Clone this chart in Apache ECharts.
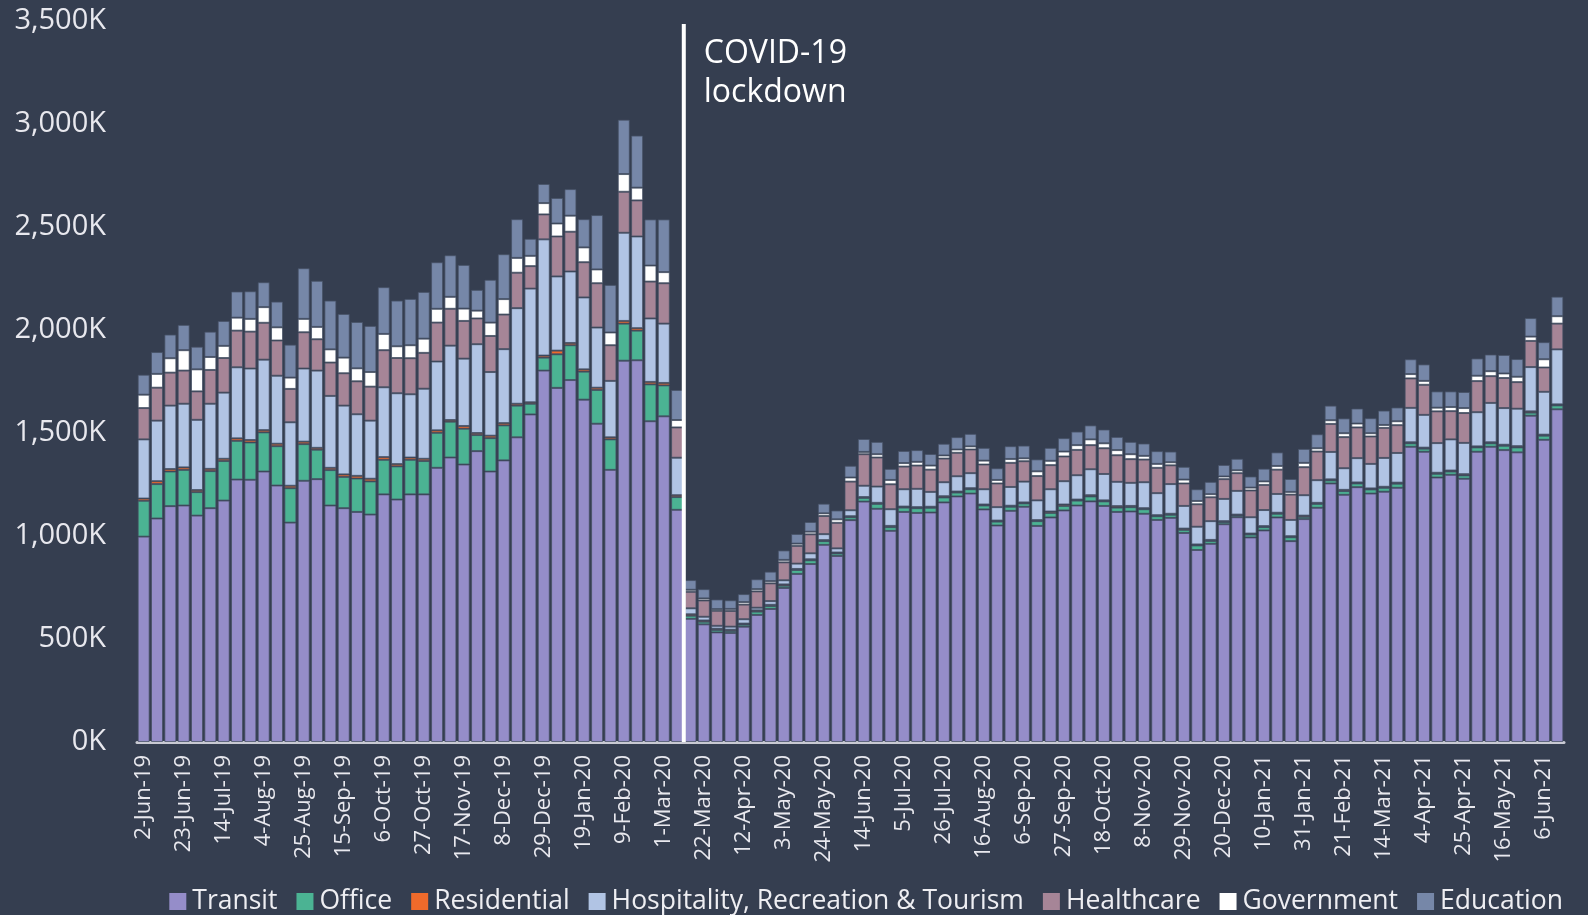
<!DOCTYPE html>
<html>
<head>
<meta charset="utf-8">
<script src="https://cdn.jsdelivr.net/npm/echarts@6/dist/echarts.min.js"></script>
<style>
  html, body { margin: 0; padding: 0; background: #353e50; }
  #chart { width: 1588px; height: 915px; }
</style>
</head>
<body>
<div id="chart"></div>
<script>
// weekly, thousands
const weeks = [
  '2-Jun-19','9-Jun-19','16-Jun-19','23-Jun-19','30-Jun-19','7-Jul-19','14-Jul-19','21-Jul-19','28-Jul-19',
  '4-Aug-19','11-Aug-19','18-Aug-19','25-Aug-19','1-Sep-19','8-Sep-19','15-Sep-19','22-Sep-19','29-Sep-19',
  '6-Oct-19','13-Oct-19','20-Oct-19','27-Oct-19','3-Nov-19','10-Nov-19','17-Nov-19','24-Nov-19',
  '1-Dec-19','8-Dec-19','15-Dec-19','22-Dec-19','29-Dec-19',
  '5-Jan-20','12-Jan-20','19-Jan-20','26-Jan-20','2-Feb-20','9-Feb-20','16-Feb-20','23-Feb-20',
  '1-Mar-20','8-Mar-20','15-Mar-20','22-Mar-20','29-Mar-20','5-Apr-20','12-Apr-20','19-Apr-20','26-Apr-20',
  '3-May-20','10-May-20','17-May-20','24-May-20','31-May-20','7-Jun-20','14-Jun-20','21-Jun-20','28-Jun-20',
  '5-Jul-20','12-Jul-20','19-Jul-20','26-Jul-20','2-Aug-20','9-Aug-20','16-Aug-20','23-Aug-20','30-Aug-20',
  '6-Sep-20','13-Sep-20','20-Sep-20','27-Sep-20','4-Oct-20','11-Oct-20','18-Oct-20','25-Oct-20',
  '1-Nov-20','8-Nov-20','15-Nov-20','22-Nov-20','29-Nov-20','6-Dec-20','13-Dec-20','20-Dec-20','27-Dec-20',
  '3-Jan-21','10-Jan-21','17-Jan-21','24-Jan-21','31-Jan-21','7-Feb-21','14-Feb-21','21-Feb-21','28-Feb-21',
  '7-Mar-21','14-Mar-21','21-Mar-21','28-Mar-21','4-Apr-21','11-Apr-21','18-Apr-21','25-Apr-21',
  '2-May-21','9-May-21','16-May-21','23-May-21','30-May-21','6-Jun-21','13-Jun-21'
];

const transit = [
  997,1085,1145,1148,1099,1135,1172,1274,1273,1313,1245,1065,1268,1276,1148,1135,1117,1104,1202,1177,
  1202,1202,1331,1381,1347,1412,1313,1367,1479,1590,1803,1719,1757,1662,1545,1321,1851,1853,1557,1581,
  1127,598,571,532,529,560,617,646,748,816,864,957,903,1077,1167,1132,1025,1117,1112,1114,
  1163,1192,1206,1129,1051,1122,1142,1049,1090,1124,1148,1168,1146,1117,1119,1108,1078,1088,1015,932,
  962,1057,1091,993,1027,1090,975,1082,1137,1255,1200,1237,1206,1215,1234,1433,1409,1284,1297,1278,
  1409,1433,1417,1406,1584,1467,1615
];
const office = [
  174,167,168,173,114,180,192,188,181,190,191,167,178,143,172,152,162,161,168,161,
  168,162,170,174,174,78,162,170,154,52,63,163,169,136,164,148,180,144,179,150,
  62,15,13,12,10,10,16,14,11,19,18,18,12,14,18,24,18,21,23,23,
  24,19,21,19,19,20,16,23,22,22,24,24,22,21,21,22,18,15,15,22,
  14,10,8,14,16,18,19,11,19,15,18,18,20,19,20,17,15,18,16,16,
  21,17,21,24,15,20,19
];
const residential = [
  11,14,12,12,10,11,11,12,12,11,12,12,12,9,11,12,13,13,13,11,
  11,11,12,8,13,10,12,11,9,7,10,18,11,11,11,10,13,12,12,12,
  9,7,6,6,6,5,6,6,6,5,5,5,5,5,4,5,6,5,5,5,
  6,5,5,5,5,5,5,5,7,7,5,6,5,7,6,5,5,5,6,5,
  5,5,5,5,5,5,5,6,5,5,6,5,5,5,5,5,5,5,5,6,
  5,5,5,6,6,5,5
];
const hospitality = [
  287,294,308,309,341,316,321,345,347,342,330,308,355,375,349,334,299,282,339,344,
  307,340,334,361,327,431,309,359,464,552,564,360,347,349,292,274,428,445,308,288,
  182,29,18,14,15,21,13,18,20,26,29,29,20,29,55,79,81,84,89,72,
  68,74,73,74,65,91,101,96,108,113,118,126,128,118,112,126,107,144,110,86,
  91,108,115,79,78,91,79,99,110,133,105,118,119,140,144,167,159,144,151,152,
  166,191,178,182,215,208,267
];
const healthcare = [
  152,160,160,161,138,164,168,178,179,179,171,162,176,152,162,157,160,165,180,171,
  175,174,189,179,183,125,175,168,172,109,121,194,193,171,215,173,199,175,179,196,
  147,80,79,73,76,71,79,86,87,86,92,88,124,139,153,141,121,110,113,108,
  115,114,115,120,115,117,99,118,117,120,123,117,125,129,115,110,123,91,109,109,
  116,96,86,130,122,118,123,136,139,136,151,149,133,146,135,143,146,154,137,145,
  151,130,146,129,127,118,125
];
const government = [
  65,67,70,99,107,63,59,63,62,76,64,55,65,60,64,76,63,71,79,57,
  63,69,67,58,60,38,65,75,72,50,55,63,78,72,67,62,86,62,78,54,
  36,10,10,8,10,12,11,11,12,11,13,13,17,20,11,16,21,17,18,20,
  15,16,15,19,17,19,14,23,21,24,23,28,24,25,24,18,19,15,19,16,
  15,13,14,14,17,18,13,21,16,18,19,19,16,14,19,21,19,18,20,24,
  26,24,22,26,21,40,36
];
const education = [
  97,106,115,123,110,123,121,127,134,121,125,160,246,224,237,212,225,224,227,222,
  225,227,226,202,212,101,208,218,188,83,93,124,129,137,264,231,264,253,224,256,
  146,47,45,47,42,39,48,46,46,47,47,47,43,57,63,60,54,59,57,56,
  57,60,61,62,57,62,62,58,63,65,66,68,67,64,60,60,62,52,62,57,
  60,56,56,54,62,66,63,68,68,71,72,73,73,70,67,72,80,79,76,78,
  84,81,90,86,90,83,95
];

const yTicks = [0, 500, 1000, 1500, 2000, 2500, 3000, 3500];
const lockdownBetween = ['8-Mar-20', '15-Mar-20'];

const seriesDefs = [
  ['Transit', transit, '#958dc9'],
  ['Office', office, '#4bb393'],
  ['Residential', residential, '#ef6a2b'],
  ['Hospitality, Recreation & Tourism', hospitality, '#b1c4e4'],
  ['Healthcare', healthcare, '#a68597'],
  ['Government', government, '#ffffff'],
  ['Education', education, '#7687a8']
];

const chart = echarts.init(document.getElementById('chart'));
const font = '"Open Sans", "Noto Sans", sans-serif';

chart.setOption({
  backgroundColor: '#353e50',
  animation: false,
  textStyle: { fontFamily: font },
  grid: { left: 137, right: 24, top: 21, bottom: 173 },
  legend: {
    right: 20,
    bottom: -5,
    icon: 'rect',
    itemWidth: 17,
    itemHeight: 17,
    itemGap: 19,
    itemStyle: { borderWidth: 0 },
    textStyle: { color: '#eeeef2', fontSize: 26.5, fontFamily: font, padding: [0, 0, 0, 1] },
    data: seriesDefs.map(d => d[0])
  },
  xAxis: {
    type: 'category',
    data: weeks,
    axisTick: { show: false },
    axisLine: { lineStyle: { color: '#c9cad3', width: 3 } },
    axisLabel: {
      rotate: 90,
      interval: 2,
      margin: 13,
      color: '#e8e8ee',
      fontSize: 22,
      fontFamily: font
    }
  },
  yAxis: {
    type: 'value',
    min: yTicks[0],
    max: yTicks[yTicks.length - 1],
    interval: 500,
    splitLine: { show: false },
    axisLine: { show: false },
    axisTick: { show: false },
    axisLabel: {
      margin: 31,
      color: '#e8e8ee',
      fontSize: 29,
      fontFamily: font,
      formatter: v => v.toLocaleString('en-US') + 'K'
    }
  },
  series: seriesDefs.map(d => ({
    name: d[0],
    type: 'bar',
    stack: 'total',
    data: d[1],
    barCategoryGap: '10%',
    itemStyle: { color: d[2], borderColor: 'rgba(70,80,100,0.75)', borderWidth: 1 }
  }))
});

// lockdown marker between two weeks
const xa = chart.convertToPixel({ xAxisIndex: 0 }, lockdownBetween[0]);
const xb = chart.convertToPixel({ xAxisIndex: 0 }, lockdownBetween[1]);
const lx = (xa + xb) / 2;
const yTop = chart.convertToPixel({ yAxisIndex: 0 }, 3485);
const yBot = chart.convertToPixel({ yAxisIndex: 0 }, 0);
chart.setOption({
  graphic: [
    {
      type: 'line',
      shape: { x1: lx, y1: yTop, x2: lx, y2: yBot },
      style: { stroke: '#ffffff', lineWidth: 4 },
      z: 100
    },
    {
      type: 'text',
      left: lx + 20,
      top: 34,
      style: {
        text: 'COVID-19\nlockdown',
        fill: '#ffffff',
        font: '32px ' + font,
        lineHeight: 39
      },
      z: 100
    }
  ]
});
</script>
</body>
</html>
